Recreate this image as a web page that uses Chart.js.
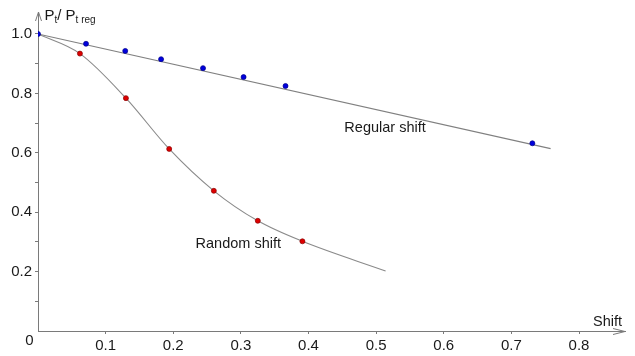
<!DOCTYPE html>
<html>
<head>
<meta charset="utf-8">
<script src="https://cdn.jsdelivr.net/npm/chart.js@4/dist/chart.umd.min.js"></script>
<style>
  html, body { margin: 0; padding: 0; background: #fff; }
  #wrap { width: 635px; height: 356px; position: relative; }
</style>
</head>
<body>
<div id="wrap"><canvas id="c" width="635" height="356"></canvas></div>
<script>
// Measured points
const regularX = [0, 0.071, 0.129, 0.182, 0.244, 0.304, 0.366, 0.731];
const regularY = [1.0, 0.967, 0.943, 0.915, 0.885, 0.855, 0.825, 0.632];
const randomX = [0.062, 0.130, 0.194, 0.260, 0.325, 0.391];
const randomY = [0.934, 0.784, 0.613, 0.472, 0.371, 0.302];
// Fitted curves
const regularFitX = [0, 0.758];
const regularFitY = [1.0, 0.614];
const randomFitX = [0, 0.062, 0.130, 0.194, 0.260, 0.325, 0.391, 0.514];
const randomFitY = [1.0, 0.934, 0.784, 0.613, 0.472, 0.371, 0.302, 0.202];
// Ticks
const xTickValues = [0.1, 0.2, 0.3, 0.4, 0.5, 0.6, 0.7, 0.8];
const yTickValues = [0.1, 0.2, 0.3, 0.4, 0.5, 0.6, 0.7, 0.8, 0.9, 1.0];
const yLabelValues = [0.2, 0.4, 0.6, 0.8, 1.0];
// Text labels
const seriesLabels = [
  { text: 'Regular shift', x: 0.453, y: 0.685 },
  { text: 'Random shift', x: 0.233, y: 0.292 }
];

const zip = (xs, ys) => xs.map((x, i) => ({ x: x, y: ys[i] }));
const FONT = '"Liberation Sans", Arial, sans-serif';
const TEXT = '#1a1a1a';
const AXIS = '#7a7a7a';

const annot = {
  id: 'annot',
  afterDraw(chart) {
    const ctx = chart.ctx;
    const xs = chart.scales.x, ys = chart.scales.y;
    const ca = chart.chartArea;
    const ox = Math.round(xs.getPixelForValue(0)) + 0.5;
    const oy = Math.round(ys.getPixelForValue(0)) + 0.5;
    ctx.save();
    // arrows
    ctx.strokeStyle = AXIS;
    ctx.lineWidth = 1;
    ctx.beginPath();
    ctx.moveTo(ox - 3, ca.top + 9); ctx.lineTo(ox, ca.top); ctx.lineTo(ox + 3, ca.top + 9);
    ctx.moveTo(ca.right - 12, oy - 3); ctx.lineTo(ca.right, oy); ctx.lineTo(ca.right - 12, oy + 3);
    ctx.stroke();
    // "0" at origin
    ctx.fillStyle = TEXT;
    ctx.font = '15px ' + FONT;
    ctx.textAlign = 'center';
    ctx.textBaseline = 'middle';
    ctx.fillText('0', ox - 9, oy + 9);
    // axis titles
    ctx.textAlign = 'left';
    ctx.textBaseline = 'alphabetic';
    ctx.font = '15px ' + FONT;
    let tx = ox + 6, ty = 20;
    ctx.fillText('P', tx, ty); tx += ctx.measureText('P').width;
    ctx.font = '10px ' + FONT;
    ctx.fillText('t', tx, ty + 3); tx += ctx.measureText('t').width;
    ctx.font = '15px ' + FONT;
    ctx.fillText('/ P', tx, ty); tx += ctx.measureText('/ P').width;
    ctx.font = '10px ' + FONT;
    ctx.fillText('t reg', tx, ty + 3);
    ctx.font = '14.5px ' + FONT;
    ctx.textAlign = 'right';
    ctx.fillText('Shift', ca.right - 3, oy - 6);
    // series labels
    ctx.textAlign = 'left';
    ctx.textBaseline = 'middle';
    seriesLabels.forEach(l => {
      ctx.fillText(l.text, xs.getPixelForValue(l.x), ys.getPixelForValue(l.y));
    });
    ctx.restore();
  }
};

new Chart(document.getElementById('c'), {
  type: 'scatter',
  data: {
    datasets: [
      {
        data: zip(regularX, regularY),
        showLine: false, pointRadius: 2.5,
        pointBackgroundColor: '#0000dd', pointBorderColor: '#000088', pointBorderWidth: 0.7,
        order: 0
      },
      {
        data: zip(randomX, randomY),
        showLine: false, pointRadius: 2.5,
        pointBackgroundColor: '#dd0000', pointBorderColor: '#880000', pointBorderWidth: 0.7,
        order: 1
      },
      {
        data: zip(regularFitX, regularFitY),
        showLine: true, pointRadius: 0, borderColor: '#808080', borderWidth: 1.1,
        tension: 0, order: 2
      },
      {
        data: zip(randomFitX, randomFitY),
        showLine: true, pointRadius: 0, borderColor: '#8a8a8a', borderWidth: 1.1,
        cubicInterpolationMode: 'monotone', order: 3
      }
    ]
  },
  options: {
    responsive: false,
    animation: false,
    events: [],
    layout: { padding: { top: 8, right: 10, left: 0, bottom: 0 } },
    plugins: { legend: { display: false }, tooltip: { enabled: false } },
    scales: {
      x: {
        type: 'linear', min: 0, max: 0.868,
        afterFit: s => { s.height = 25; },
        afterBuildTicks: s => { s.ticks = xTickValues.map(v => ({ value: v })); },
        border: { color: AXIS, width: 1 },
        grid: { drawOnChartArea: false, drawTicks: true, tickLength: 3, color: AXIS },
        ticks: {
          color: TEXT, padding: 3, maxRotation: 0, autoSkip: false,
          font: { family: FONT, size: 15 },
          callback: v => v.toFixed(1)
        }
      },
      y: {
        type: 'linear', min: 0, max: 1.074,
        afterFit: s => { s.width = 38; },
        afterBuildTicks: s => { s.ticks = yTickValues.map(v => ({ value: v })); },
        border: { color: AXIS, width: 1 },
        grid: { drawOnChartArea: false, drawTicks: true, tickLength: 3, color: AXIS },
        ticks: {
          color: TEXT, padding: 3, autoSkip: false,
          font: { family: FONT, size: 15 },
          callback: v => (yLabelValues.some(l => Math.abs(l - v) < 1e-6) ? v.toFixed(1) : '')
        }
      }
    }
  },
  plugins: [annot]
});
</script>
</body>
</html>
